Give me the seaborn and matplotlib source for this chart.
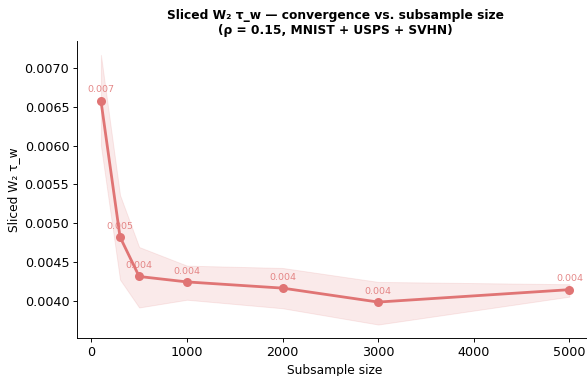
import numpy as np
import pandas as pd
import matplotlib
matplotlib.use("Agg")
import matplotlib.pyplot as plt
import seaborn as sns

sizes = [100, 300, 500, 1000, 2000, 3000, 5000]
mean_vals = [0.00658, 0.00482, 0.00431, 0.00424, 0.00416, 0.00398, 0.00414]
upper_vals = [0.00717, 0.00536, 0.00469, 0.00445, 0.00442, 0.00424, 0.00421]
lower_vals = [0.00600, 0.00427, 0.00391, 0.00401, 0.00390, 0.00369, 0.00405]

sns.set_style("ticks", {"axes.edgecolor": "black", "text.color": "black",
                        "axes.labelcolor": "black", "xtick.color": "black",
                        "ytick.color": "black"})
plt.rcParams['font.family'] = ['DejaVu Sans']

s = 0.84
color = "#e07474"
df = pd.DataFrame({"size": sizes, "val": mean_vals})

fig, ax = plt.subplots(figsize=(5.87, 3.76), dpi=100)
ax.fill_between(sizes, lower_vals, upper_vals, color=color, alpha=0.15, linewidth=0.8 * s)
sns.lineplot(data=df, x="size", y="val", marker="o", color=color, linewidth=2,
             markersize=6.5, markeredgewidth=0, ax=ax)
for x, y in zip(sizes, mean_vals):
    ax.annotate(f"{y:.3f}", (x, y), textcoords="offset points", xytext=(0, 6),
                ha="center", fontsize=6.8, color=color, alpha=0.85)

ax.set_xlabel("Subsample size", fontsize=8.8, labelpad=3.4)
ax.set_ylabel("Sliced W₂ τ_w", fontsize=8.8, labelpad=3.4)
ax.set_title("Sliced W₂ τ_w — convergence vs. subsample size\n(ρ = 0.15, MNIST + USPS + SVHN)",
             fontsize=8.8, fontweight="bold", pad=5)
ax.set_xticks([0, 1000, 2000, 3000, 4000, 5000])
ax.set_yticks([0.0040, 0.0045, 0.0050, 0.0055, 0.0060, 0.0065, 0.0070])
ax.yaxis.set_major_formatter(matplotlib.ticker.FormatStrFormatter("%.4f"))
ax.tick_params(labelsize=9.2, length=3.5 * s, width=0.8 * s, pad=3.5 * s)
for sp in ax.spines.values():
    sp.set_linewidth(0.8 * s)
sns.despine(ax=ax)
fig.subplots_adjust(left=0.132, right=1.01, top=0.89, bottom=0.101)
fig.savefig("out.png", dpi=100)
